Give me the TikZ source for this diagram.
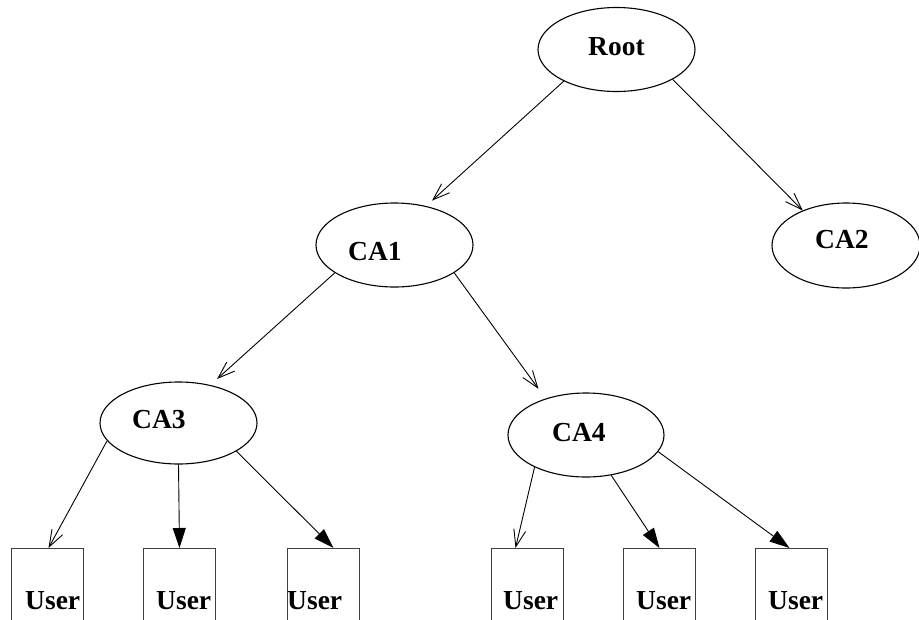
\documentclass[tikz,border=0pt]{standalone}
\usepackage{fontspec}
\setmainfont{Liberation Serif}
\usetikzlibrary{shapes.geometric,arrows.meta,calc}
\begin{document}
\begin{tikzpicture}[x=1pt,y=-1pt,
  ca/.style={draw,ellipse,line width=1.1pt,inner sep=0pt,minimum width=157pt,minimum height=84pt},
  userbox/.style={draw=black!75,line width=1pt,inner sep=0pt,minimum width=72pt,minimum height=120pt,anchor=north west},
  lbl/.style={inner sep=0pt,anchor=base west,font=\fontsize{27.5}{30}\selectfont\bfseries},
  openarr/.style={line width=0.9pt,-{Straight Barb[length=17pt,width=12pt]}},
  fillarr/.style={line width=0.9pt,-{Triangle[length=20pt,width=13pt]}}]
\useasboundingbox (0,0) rectangle (919,619);
\clip (0,0) rectangle (919,619);
% ellipses
\node[ca] (root) at (616.5,49.5) {};
\node[ca] (ca1) at (394.5,245) {};
\node[ca,minimum width=148pt,minimum height=85pt] (ca2) at (846,245.5) {};
\node[ca,minimum height=82pt] (ca3) at (178.5,423) {};
\node[ca,minimum width=156pt] (ca4) at (586,435) {};
% labels
\node[lbl] (rootl) at (588,55) {Root};
\node[lbl] (ca1l) at (348,260) {CA1};
\node[lbl] (ca2l) at (815,248) {CA2};
\node[lbl] (ca3l) at (132,428) {CA3};
\node[lbl] (ca4l) at (552,441) {CA4};
% user boxes
\node[userbox] (u1) at (11,548) {};
\node[userbox] (u2) at (143,548) {};
\node[userbox] (u3) at (287,548) {};
\node[userbox] (u4) at (491,548) {};
\node[userbox] (u5) at (623,548) {};
\node[userbox] (u6) at (755,548) {};
\node[lbl] (u1l) at (25,609) {User};
\node[lbl] (u2l) at (156,609) {User};
\node[lbl] (u3l) at (287,609) {User};
\node[lbl] (u4l) at (503,609) {User};
\node[lbl] (u5l) at (636,609) {User};
\node[lbl] (u6l) at (768,609) {User};
% connectors
\draw[openarr,shorten >=8pt] (root.211) -- (ca1.51);
\draw[openarr] (root.-28) -- (ca2.141);
\draw[openarr,shorten >=9pt] (ca1.205) -- (ca3.50);
\draw[openarr,shorten >=12pt] (ca1.-25) -- (ca4.138);
\draw[openarr] (ca3.194) -- ($(u1.north)+(1,0)$);
\draw[fillarr] (ca3.south) -- (u2.north);
\draw[fillarr] (ca3.-26) -- ($(u3.north)+(10,0)$);
\draw[openarr] (ca4.212) -- ($(u4.north)+(-12,0)$);
\draw[fillarr] (ca4.-58) -- (u5.north);
\draw[fillarr] (ca4.-13) -- ($(u6.north)+(-2,0)$);
\end{tikzpicture}
\end{document}
